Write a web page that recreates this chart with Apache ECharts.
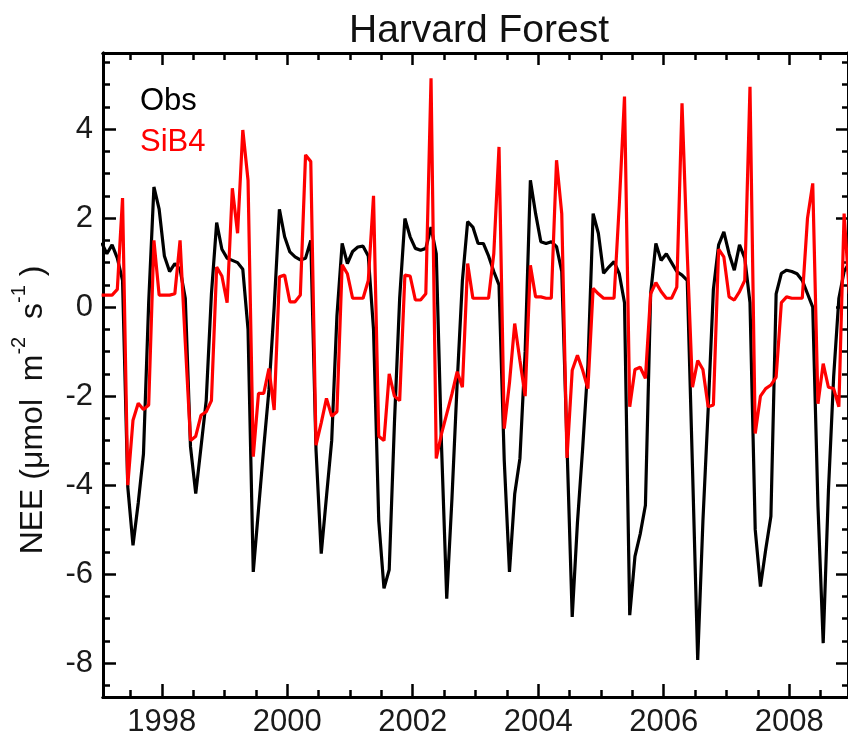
<!DOCTYPE html>
<html lang="en">
<head>
    <meta charset="UTF-8">
    <title>Harvard Forest</title>
    <script src="https://cdn.jsdelivr.net/npm/echarts@6/dist/echarts.min.js"></script>
    <style>
        html, body { margin: 0; padding: 0; background: #fff; }
        #chart { width: 848px; height: 741px; }
    </style>
</head>
<body>
    <div id="chart"></div>
    <script>
        // monthly values, Jan 1997 .. Dec 2008
        var years = [1997, 1998, 1999, 2000, 2001, 2002, 2003, 2004, 2005, 2006, 2007, 2008];
        var obs = [
            1.45, 1.2, 1.4, 1.1, 0.6, -4.04, -5.35, -4.4, -3.3, 0.1, 2.7, 2.2,
            1.15, 0.8, 0.98, 0.85, 0.2, -3.14, -4.19, -3.15, -2.1, 0.3, 1.9, 1.3,
            1.1, 1.05, 1.0, 0.85, -0.5, -5.95, -4.55, -3.16, -1.86, 0.0, 2.2, 1.58,
            1.24, 1.13, 1.06, 1.1, 1.5, -3.2, -5.54, -4.26, -3.0, -0.2, 1.43, 0.98,
            1.25, 1.35, 1.37, 1.15, -0.5, -4.8, -6.32, -5.9, -2.6, 0.2, 1.99, 1.58,
            1.32, 1.28, 1.32, 1.8, 1.2, -3.1, -6.55, -4.3, -1.7, 0.6, 1.92, 1.8,
            1.43, 1.43, 1.15, 0.8, 0.5, -3.44, -5.95, -4.2, -3.4, -1.0, 2.85, 2.1,
            1.47, 1.43, 1.47, 1.36, 0.8, -3.1, -6.96, -4.84, -3.17, -1.3, 2.1, 1.66,
            0.76, 0.9, 1.02, 0.75, 0.1, -6.92, -5.6, -5.1, -4.45, 0.3, 1.43, 1.05,
            1.2, 1.0, 0.8, 0.72, 0.6, -3.6, -7.93, -4.8, -2.3, 0.4, 1.4, 1.69,
            1.2, 0.83, 1.4, 1.1, 0.1, -5.0, -6.28, -5.45, -4.7, 0.3, 0.76, 0.83,
            0.8, 0.75, 0.6, 0.3, 0.0, -4.47, -7.55, -4.13, -1.56, 0.2, 0.8, 1.0
        ];
        var sib4 = [
            0.27, 0.27, 0.27, 0.4, 2.45, -4.0, -2.54, -2.16, -2.3, -2.2, 1.5, 0.27,
            0.27, 0.27, 0.3, 1.5, -0.8, -3.0, -2.9, -2.43, -2.35, -2.1, 0.9, 0.7,
            0.1, 2.67, 1.66, 3.98, 2.85, -3.36, -1.94, -1.94, -1.38, -2.31, 0.68, 0.72,
            0.12, 0.12, 0.27, 3.42, 3.27, -3.1, -2.6, -2.05, -2.45, -2.35, 0.95, 0.75,
            0.2, 0.2, 0.2, 0.6, 2.5, -2.9, -3.0, -1.5, -2.0, -2.1, 0.72, 0.7,
            0.16, 0.16, 0.3, 5.14, -3.4, -2.85, -2.4, -1.95, -1.45, -1.8, 0.98, 0.2,
            0.2, 0.2, 0.2, 1.2, 3.6, -2.73, -1.7, -0.37, -1.2, -2.0, 0.94, 0.23,
            0.23, 0.2, 0.2, 3.3, 2.1, -3.39, -1.42, -1.08, -1.42, -1.83, 0.42, 0.3,
            0.2, 0.2, 0.2, 2.3, 4.73, -2.24, -1.4, -1.35, -1.6, 0.3, 0.55, 0.35,
            0.2, 0.2, 0.45, 4.58, 1.2, -1.8, -1.2, -1.4, -2.24, -2.2, 1.3, 1.13,
            0.23, 0.16, 0.35, 0.6, 4.95, -2.84, -2.0, -1.83, -1.75, -1.57, 0.1, 0.23,
            0.2, 0.2, 0.2, 2.0, 2.78, -2.17, -1.27, -1.8, -1.83, -2.24, 2.1, 0.3
        ];
        var xTickYears = [1998, 2000, 2002, 2004, 2006, 2008];
        var yTickValues = [-8, -6, -4, -2, 0, 2, 4];

        var FONT = '"Liberation Sans", Arial, Helvetica, sans-serif';
        var xMin = 1997.0635, xMax = 2008.937;
        var yMin = -8.76, yMax = 5.71;

        // mid-month position of each value, in decimal years
        var times = [];
        years.forEach(function (y) {
            for (var m = 0; m < 12; m++) times.push(y + (m + 0.5) / 12);
        });

        // half-unit minor ticks like the original plot
        var xMinor = [], yMinor = [];
        for (var t = 1997.5; t < xMax; t += 0.5) if (t % 2 !== 0) xMinor.push(t);
        for (var v = -8.5; v <= 5.5; v += 0.5) if (v % 2 !== 0) yMinor.push(v);

        function xAxisAt(pos, vals, len, withLabels) {
            return {
                type: 'value', position: pos, min: xMin, max: xMax,
                axisLine: { show: true, onZero: false, lineStyle: { color: '#000', width: 3 } },
                axisTick: { show: true, inside: true, length: len, customValues: vals,
                            lineStyle: { color: '#000', width: 2.5 } },
                axisLabel: withLabels ? {
                    show: true, customValues: vals, margin: 10, fontSize: 31, color: '#1a1a1a',
                    fontFamily: FONT, formatter: function (v) { return String(Math.round(v)); }
                } : { show: false },
                splitLine: { show: false }
            };
        }
        function yAxisAt(pos, vals, len, withLabels) {
            return {
                type: 'value', position: pos, min: yMin, max: yMax,
                axisLine: { show: true, onZero: false, lineStyle: { color: '#000', width: 3 } },
                axisTick: { show: true, inside: true, length: len, customValues: vals,
                            lineStyle: { color: '#000', width: 2.5 } },
                axisLabel: withLabels ? {
                    show: true, customValues: vals, margin: 10, fontSize: 31, color: '#1a1a1a',
                    fontFamily: FONT, formatter: function (v) { return String(Math.round(v)); }
                } : { show: false },
                splitLine: { show: false }
            };
        }

        var chart = echarts.init(document.getElementById('chart'));
        var option = {
            animation: false,
            backgroundColor: '#fff',
            title: {
                text: 'Harvard Forest', left: 474, top: 7, textAlign: 'center',
                textStyle: { fontSize: 39, fontWeight: 'normal', color: '#111', fontFamily: FONT }
            },
            legend: {
                orient: 'vertical', left: 129, top: 81, itemGap: 10,
                itemWidth: 0, itemHeight: 0, selectedMode: false,
                itemStyle: { opacity: 0 }, lineStyle: { opacity: 0 },
                textStyle: { fontSize: 31, fontFamily: FONT },
                data: [
                    { name: 'Obs', textStyle: { color: '#000' } },
                    { name: 'SiB4', textStyle: { color: '#f00' } }
                ]
            },
            grid: { left: 103, top: 53, right: -3, bottom: 44 },
            xAxis: [
                xAxisAt('bottom', xTickYears, 13, true),
                xAxisAt('bottom', xMinor, 7, false),
                xAxisAt('top', xTickYears, 12, false),
                xAxisAt('top', xMinor, 7, false)
            ],
            yAxis: [
                yAxisAt('left', yTickValues, 13, true),
                yAxisAt('left', yMinor, 7, false),
                yAxisAt('right', yTickValues, 12, false),
                yAxisAt('right', yMinor, 6, false)
            ],
            graphic: [{
                type: 'text', x: 29, y: 410, rotation: Math.PI / 2,
                style: {
                    text: '{a|NEE (μmol  m}{b|-2}{a|  s}{b|-1}{a| )}',
                    align: 'center', verticalAlign: 'middle', fill: '#111',
                    rich: {
                        a: { fontSize: 32, lineHeight: 40, verticalAlign: 'bottom', fontFamily: FONT, fill: '#111' },
                        b: { fontSize: 20, lineHeight: 20, verticalAlign: 'top', fontFamily: FONT, fill: '#111' }
                    }
                }
            }],
            series: [
                {
                    name: 'Obs', type: 'line', xAxisIndex: 0, yAxisIndex: 0,
                    data: times.map(function (t, i) { return [t, obs[i]]; }),
                    symbol: 'none', clip: true,
                    lineStyle: { color: '#000', width: 3.2 }, itemStyle: { color: '#000' }
                },
                {
                    name: 'SiB4', type: 'line', xAxisIndex: 0, yAxisIndex: 0,
                    data: times.map(function (t, i) { return [t, sib4[i]]; }),
                    symbol: 'none', clip: true,
                    lineStyle: { color: '#f00', width: 3.2 }, itemStyle: { color: '#f00' }
                }
            ]
        };
        chart.setOption(option);
    </script>
</body>
</html>
